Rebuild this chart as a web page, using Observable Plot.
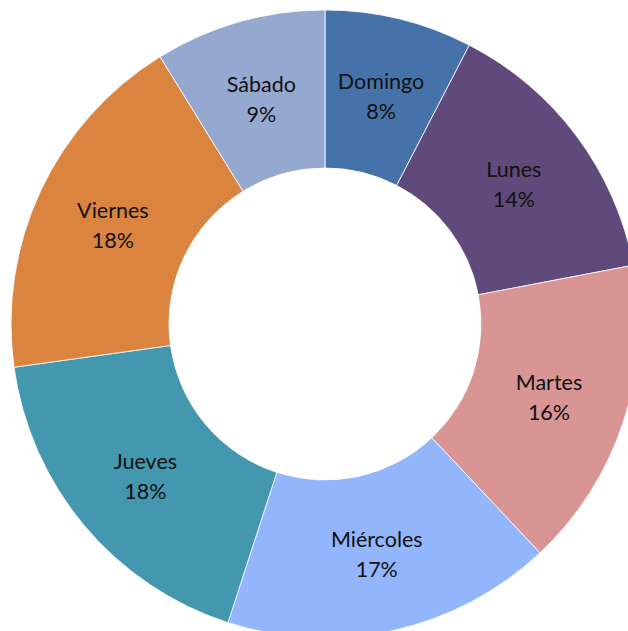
<!DOCTYPE html>
<html>
<head>
<meta charset="utf-8">
<script src="https://cdn.jsdelivr.net/npm/d3@7"></script>
<script src="https://cdn.jsdelivr.net/npm/@observablehq/plot@0.6"></script>
<style>
  html, body { margin: 0; padding: 0; background: #fff; }
  #chart svg { display: block; }
</style>
</head>
<body>
<div id="chart"></div>
<script>
const days = ["Domingo", "Lunes", "Martes", "Miércoles", "Jueves", "Viernes", "Sábado"];
const shares = [7.6, 14.4, 16.0, 17.0, 17.8, 18.4, 8.8];
const colors = ["#4573A9", "#604A7B", "#D99594", "#93B5FC", "#4397AE", "#DB8440", "#95A9D0"];

const W = 628, H = 631;
const center = [325, 324];
const outerR = 314, innerR = 156;

const data = days.map((d, i) => ({ day: d, value: shares[i], color: colors[i] }));
const pie = d3.pie().sort(null).value(d => d.value);
const slices = pie(data);
const arc = d3.arc().innerRadius(innerR).outerRadius(outerR);
const labelArc = d3.arc().innerRadius((innerR + outerR) / 2).outerRadius((innerR + outerR) / 2);
slices.forEach(s => {
  const c = labelArc.centroid(s);
  s.lx = center[0] + c[0];
  s.ly = center[1] + c[1];
});

function donut(index, scales) {
  const X = scales.x, Y = scales.y;
  const g = d3.create("svg:g").attr("transform", `translate(${X(center[0])},${Y(center[1])})`);
  g.selectAll("path")
    .data(slices)
    .join("path")
    .attr("d", arc)
    .attr("fill", d => d.data.color)
    .attr("stroke", "#ffffff")
    .attr("stroke-width", 0.8);
  return g.node();
}

const chart = Plot.plot({
  width: W,
  height: H,
  margin: 0,
  x: { domain: [0, W], range: [0, W], axis: null },
  y: { domain: [0, H], range: [0, H], axis: null },
  style: { background: "#ffffff" },
  marks: [
    donut,
    Plot.text(slices, {
      x: "lx",
      y: "ly",
      dy: -1.5,
      text: d => `${d.data.day}\n${Math.round(d.data.value)}%`,
      lineHeight: 1.4,
      fontSize: 21.5,
      fontFamily: "Lato, 'Open Sans', sans-serif",
      fill: "#111111",
      textAnchor: "middle"
    })
  ]
});
document.getElementById("chart").appendChild(chart);
</script>
</body>
</html>
